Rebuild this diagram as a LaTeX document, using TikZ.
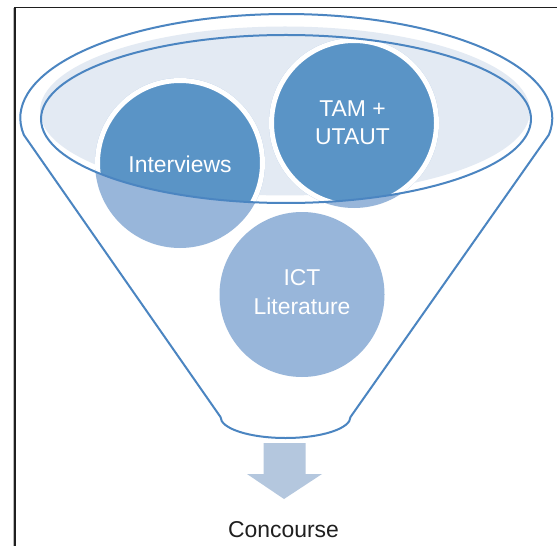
\documentclass[tikz,border=0pt]{standalone}
\usepackage{fontspec}
\setmainfont{Liberation Sans}
\definecolor{fstroke}{RGB}{75,133,193}
\definecolor{cdark}{RGB}{90,148,198}
\definecolor{clight}{RGB}{152,182,218}
\definecolor{efill}{RGB}{227,234,243}
\definecolor{arrowc}{RGB}{180,199,222}
\begin{document}
\begin{tikzpicture}[x=1bp,y=-1bp,
  outline/.style={draw=fstroke, line width=2bp},
  lbl/.style={text=white, font=\fontsize{23}{28.5}\selectfont, align=center, inner sep=0pt},
  darkdisc/.style={fill=cdark, draw=white, line width=5bp},
  framestyle/.style={draw=black!88, line width=1.5bp}]
\useasboundingbox (0,0) rectangle (557,546);
\fill[white] (0,0) rectangle (557,546);
% frame
\draw[gray!55, line width=1bp] (13.4,8) -- (13.4,546);
\draw[framestyle] (14.8,546) -- (14.8,7.5) -- (557,7.5);
% funnel outline
\draw[outline] (23.9,135) arc[start angle=170.6, end angle=369.4, x radius=266, y radius=104]
  -- (350.5,417) arc[start angle=0, end angle=180, x radius=65, y radius=21] -- cycle;
% light top ellipse fill
\fill[efill] (285,111) ellipse[x radius=245, y radius=84.5];
% light parts of the upper circles
\fill[clight] (180,163) circle[radius=85];
\fill[clight] (354,123) circle[radius=85];
% dark parts inside the rim
\begin{scope}
  \clip (286,119) ellipse[x radius=245, y radius=84];
  \path[darkdisc] (180,163) circle[radius=82.5];
  \path[darkdisc] (354,123) circle[radius=82.5];
\end{scope}
% rim
\draw[outline] (286,119) ellipse[x radius=245, y radius=84];
% lower circle
\fill[clight] (302,294.5) circle[radius=82.5];
% labels
\node[lbl] (interviews) at (180,164.5) {Interviews};
\node[lbl] (tam) at (352.5,122.5) {TAM +\\UTAUT};
\node[lbl] (ict) at (302,292) {ICT\\Literature};
% output arrow
\fill[arrowc] (263.5,443) -- (305.5,443) -- (305.5,474) -- (322,474) -- (284,499)
  -- (247,474) -- (263.5,474) -- cycle;
\node[font=\fontsize{23}{28.5}\selectfont, text=black!88, anchor=base, inner sep=0pt] (concourse) at (283.5,537) {Concourse};
\end{tikzpicture}
\end{document}
